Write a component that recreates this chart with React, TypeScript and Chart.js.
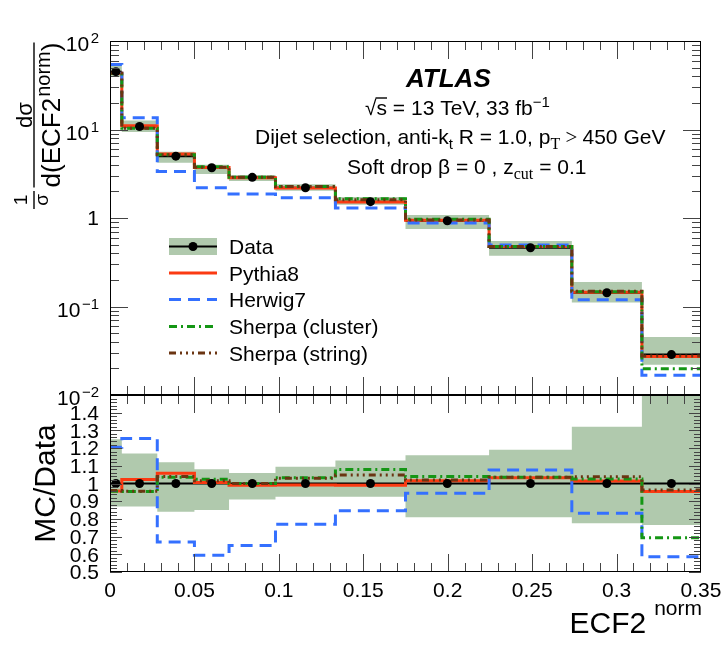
import React, { useEffect, useRef } from "react";
import { Chart, registerables } from "chart.js";

Chart.register(...registerables);

// ECF2^norm bin edges
const binEdges = [0, 0.007, 0.028, 0.05, 0.0705, 0.098, 0.1335, 0.175, 0.2245, 0.2735, 0.315, 0.35];

// Unfolded data, 1/σ dσ/d(ECF2^norm)
const dataValues = [45, 10.8, 5.0, 3.7, 2.88, 2.2, 1.53, 0.93, 0.461, 0.143, 0.0286];
// Total uncertainty band, as a fraction of the data value
const dataUncLow = [0.87, 0.87, 0.84, 0.85, 0.91, 0.925, 0.925, 0.81, 0.81, 0.775, 0.766];
const dataUncHigh = [1.25, 1.17, 1.12, 1.08, 1.06, 1.095, 1.13, 1.16, 1.19, 1.32, 1.58];

// Generator predictions
const pythia8 = [43.1, 11.04, 5.29, 3.72, 2.85, 2.18, 1.515, 0.945, 0.476, 0.145, 0.0273];
const herwig7 = [54.2, 13.55, 3.35, 2.2, 1.87, 1.694, 1.294, 0.879, 0.496, 0.119, 0.01676];
const sherpaCluster = [43.0, 10.31, 5.175, 3.79, 2.88, 2.27, 1.652, 0.967, 0.477, 0.1466, 0.01985];
const sherpaString = [43.2, 10.32, 5.2, 3.755, 2.88, 2.266, 1.603, 0.949, 0.477, 0.1484, 0.02754];

// Axis ticks
const xTicks = [0, 0.05, 0.1, 0.15, 0.2, 0.25, 0.3, 0.35];
const xTickLabels = ["0", "0.05", "0.1", "0.15", "0.2", "0.25", "0.3", "0.35"];
const logTicks = [0.01, 0.1, 1, 10, 100];
const logTickLabels: [string, string][] = [["10", "−2"], ["10", "−1"], ["1", ""], ["10", "1"], ["10", "2"]];
const ratioTicks = [0.5, 0.6, 0.7, 0.8, 0.9, 1, 1.1, 1.2, 1.3, 1.4];
const ratioTickLabels = ["0.5", "0.6", "0.7", "0.8", "0.9", "1", "1.1", "1.2", "1.3", "1.4"];

const seriesNames = ["Data", "Pythia8", "Herwig7", "Sherpa (cluster)", "Sherpa (string)"];

const SANS = '"Liberation Sans", Arial, Helvetica, sans-serif';
const SERIF = '"Liberation Serif", "DejaVu Serif", serif';
const sans = (px: number, style = "") => `${style} ${px}px ${SANS}`.trim();
const serif = (px: number) => `${px}px ${SERIF}`;

const BAND = "rgb(176,201,173)";
const RED = "#fb3a12";
const BLUE = "#3470ff";
const GREEN = "#149614";
const BROWN = "#6b3512";
const TICK = "#444";
const CLEAR = "rgba(0,0,0,0)";

const styles: Record<string, { color: string; dash: number[] }> = {
  Pythia8: { color: RED, dash: [] },
  Herwig7: { color: BLUE, dash: [12, 7] },
  "Sherpa (cluster)": { color: GREEN, dash: [8, 4, 2, 4] },
  "Sherpa (string)": { color: BROWN, dash: [7, 4, 2, 4, 2, 4, 2, 4] },
};

type Pt = { x: number; y: number | null };

// histogram outline: one point per left edge, plus the last right edge
const stepPoints = (vals: number[]): Pt[] => [
  ...vals.map((v, i) => ({ x: binEdges[i], y: v })),
  { x: binEdges[binEdges.length - 1], y: vals[vals.length - 1] },
];
// horizontal bin segments without vertical joins
const binSegments = (vals: number[]): Pt[] =>
  vals.flatMap((v, i) => [
    { x: binEdges[i], y: v },
    { x: binEdges[i + 1], y: v },
    { x: binEdges[i + 1], y: null },
  ]);
const binCenters = (vals: number[]): Pt[] =>
  vals.map((v, i) => ({ x: (binEdges[i] + binEdges[i + 1]) / 2, y: v }));
const overData = (vals: number[]) => vals.map((v, i) => v / dataValues[i]);

function seg(ctx: CanvasRenderingContext2D, x1: number, y1: number, x2: number, y2: number) {
  ctx.beginPath();
  ctx.moveTo(x1, y1);
  ctx.lineTo(x2, y2);
  ctx.stroke();
}

type Piece = { t: string; font: string; dy?: number; overline?: boolean };
function drawRich(ctx: CanvasRenderingContext2D, x: number, y: number, pieces: Piece[]) {
  let cx = x;
  ctx.textAlign = "left";
  ctx.textBaseline = "alphabetic";
  for (const p of pieces) {
    ctx.font = p.font;
    const w = ctx.measureText(p.t).width;
    ctx.fillText(p.t, cx, y + (p.dy ?? 0));
    if (p.overline) {
      ctx.lineWidth = 1.4;
      ctx.strokeStyle = "#000";
      seg(ctx, cx - 1, y - 17, cx + w, y - 17);
    }
    cx += w;
  }
  return cx;
}

// text running bottom-to-top, baseline at screen x = bx
function rotText(ctx: CanvasRenderingContext2D, bx: number, sy: number, text: string, font: string, align: CanvasTextAlign) {
  ctx.save();
  ctx.translate(bx, sy);
  ctx.rotate(-Math.PI / 2);
  ctx.font = font;
  ctx.textAlign = align;
  ctx.textBaseline = "alphabetic";
  ctx.fillText(text, 0, 0);
  ctx.restore();
}

function drawXTicks(ctx: CanvasRenderingContext2D, chart: any) {
  const { chartArea: a, scales } = chart;
  ctx.strokeStyle = TICK;
  ctx.lineWidth = 1;
  for (let k = 1; k < 35; k++) {
    const px = Math.round(scales.x.getPixelForValue(k / 100)) + 0.5;
    const len = k % 5 === 0 ? 18 : 9;
    seg(ctx, px, a.top, px, a.top + len);
    seg(ctx, px, a.bottom, px, a.bottom - len);
  }
}

function drawFrame(ctx: CanvasRenderingContext2D, a: any) {
  ctx.strokeStyle = "#000";
  ctx.lineWidth = 1;
  ctx.strokeRect(Math.round(a.left) + 0.5, Math.round(a.top) + 0.5, Math.round(a.width) - 1, Math.round(a.height) - 1);
}

const topDecor = {
  id: "topDecor",
  afterDraw(chart: any) {
    const { ctx, chartArea: a, scales } = chart;
    const ys = scales.y;
    ctx.save();
    drawXTicks(ctx, chart);
    // log y ticks, both sides
    ctx.strokeStyle = TICK;
    for (const d of logTicks) {
      const py = Math.round(ys.getPixelForValue(d)) + 0.5;
      seg(ctx, a.left, py, a.left + 18, py);
      seg(ctx, a.right, py, a.right - 18, py);
      if (d < 100) {
        for (let m = 2; m <= 9; m++) {
          const pm = Math.round(ys.getPixelForValue(d * m)) + 0.5;
          seg(ctx, a.left, pm, a.left + 9, pm);
          seg(ctx, a.right, pm, a.right - 9, pm);
        }
      }
    }
    drawFrame(ctx, a);

    // y tick labels
    ctx.fillStyle = "#000";
    ctx.textAlign = "right";
    ctx.textBaseline = "alphabetic";
    logTicks.forEach((d, i) => {
      const py = ys.getPixelForValue(d);
      const [base, sup] = logTickLabels[i];
      const right = 99;
      if (!sup) {
        ctx.font = sans(21);
        ctx.fillText(base, right, py + 7);
        return;
      }
      ctx.font = sans(15);
      const sw = ctx.measureText(sup).width;
      ctx.fillText(sup, right, py + 2);
      ctx.font = sans(21);
      ctx.fillText(base, right - sw - 1.5, py + 10);
    });

    // y-axis title: 1/σ dσ/d(ECF2^norm)
    const fr = 34;
    rotText(ctx, 27, 200, "1", sans(19), "center");
    rotText(ctx, 48, 200, "σ", sans(19), "center");
    ctx.strokeStyle = "#000";
    ctx.lineWidth = 1.4;
    seg(ctx, fr, 191, fr, 209);
    ctx.font = sans(26);
    const w1 = ctx.measureText("d(ECF2").width;
    const w3 = ctx.measureText(")").width;
    ctx.font = sans(20);
    const w2 = ctx.measureText("norm").width;
    const W = w1 + w2 + w3 + 1;
    const cy = 115;
    const start = cy + W / 2;
    seg(ctx, fr, start, fr, start - W);
    rotText(ctx, 32, cy, "dσ", sans(22), "center");
    rotText(ctx, 60, start, "d(ECF2", sans(26), "left");
    rotText(ctx, 50, start - w1 - 1, "norm", sans(20), "left");
    rotText(ctx, 60, start - w1 - 1 - w2, ")", sans(26), "left");

    // experiment label block
    ctx.fillStyle = "#000";
    ctx.textAlign = "left";
    ctx.font = sans(26, "italic bold");
    ctx.fillText("ATLAS", 406, 87);
    drawRich(ctx, 365, 115, [
      { t: "√", font: sans(21) },
      { t: "s", font: sans(21), overline: true },
      { t: " = 13 TeV, 33 fb", font: sans(21) },
      { t: "−1", font: sans(15), dy: -8 },
    ]);
    drawRich(ctx, 255, 144, [
      { t: "Dijet selection, anti-k", font: sans(21) },
      { t: "t", font: sans(15), dy: 5 },
      { t: " R = 1.0, p", font: sans(21) },
      { t: "T", font: serif(16), dy: 5 },
      { t: " > ", font: serif(21) },
      { t: "450 GeV", font: sans(21) },
    ]);
    drawRich(ctx, 347, 174, [
      { t: "Soft drop β = 0 , z", font: sans(21) },
      { t: "cut", font: serif(16), dy: 5 },
      { t: " = 0.1", font: sans(21) },
    ]);

    // legend
    const lx0 = 169;
    const lx1 = 217;
    const rows = [246.5, 273, 299.5, 326.5, 353];
    seriesNames.forEach((name, i) => {
      const y = rows[i];
      if (name === "Data") {
        ctx.fillStyle = BAND;
        ctx.fillRect(lx0, y - 8.5, lx1 - lx0, 17);
        ctx.strokeStyle = "#000";
        ctx.lineWidth = 2;
        ctx.setLineDash([]);
        seg(ctx, lx0, y, lx1, y);
        ctx.fillStyle = "#000";
        ctx.beginPath();
        ctx.arc((lx0 + lx1) / 2, y, 4.5, 0, Math.PI * 2);
        ctx.fill();
      } else {
        const st = styles[name];
        ctx.strokeStyle = st.color;
        ctx.lineWidth = 3;
        ctx.setLineDash(st.dash);
        seg(ctx, lx0, y, lx1, y);
        ctx.setLineDash([]);
      }
      ctx.fillStyle = "#000";
      ctx.font = sans(21);
      ctx.textAlign = "left";
      ctx.fillText(name, 229, y + 7.5);
    });
    ctx.restore();
  },
};

const ratioDecor = {
  id: "ratioDecor",
  afterDraw(chart: any) {
    const { ctx, chartArea: a, scales } = chart;
    const xs = scales.x;
    const ys = scales.y;
    ctx.save();
    drawXTicks(ctx, chart);
    ctx.strokeStyle = TICK;
    for (let k = 25; k < 75; k++) {
      const v = k / 50;
      const py = Math.round(ys.getPixelForValue(v)) + 0.5;
      const len = k % 5 === 0 ? 12 : 7;
      seg(ctx, a.left, py, a.left + len, py);
      seg(ctx, a.right, py, a.right - len, py);
    }
    drawFrame(ctx, a);

    ctx.fillStyle = "#000";
    ctx.font = sans(21);
    ctx.textAlign = "right";
    ctx.textBaseline = "middle";
    ratioTicks.forEach((v, i) => {
      ctx.fillText(ratioTickLabels[i], 99, ys.getPixelForValue(v) + 1.5);
    });
    ctx.textAlign = "center";
    ctx.textBaseline = "alphabetic";
    xTicks.forEach((v, i) => {
      ctx.fillText(xTickLabels[i], xs.getPixelForValue(v), a.bottom + 25);
    });

    // axis titles
    rotText(ctx, 55, (a.top + a.bottom) / 2, "MC/Data", sans(30), "center");
    ctx.textAlign = "left";
    ctx.font = sans(21);
    const wn = ctx.measureText("norm").width;
    ctx.font = sans(30);
    const we = ctx.measureText("ECF2").width;
    const xr = 702;
    ctx.font = sans(21);
    ctx.fillText("norm", xr - wn, a.bottom + 43);
    ctx.font = sans(30);
    ctx.fillText("ECF2", xr - wn - 8 - we, a.bottom + 61);
    ctx.restore();
  },
};

function mcDataset(name: string, values: number[], order: number) {
  const st = styles[name];
  return {
    label: name,
    data: stepPoints(values),
    stepped: "before",
    borderColor: st.color,
    borderWidth: 3,
    borderDash: st.dash,
    borderCapStyle: "butt",
    borderJoinStyle: "miter",
    pointRadius: 0,
    fill: false,
    order,
  };
}

function bandDatasets(hi: number[], lo: number[]) {
  return [
    {
      label: "band-hi",
      data: stepPoints(hi),
      stepped: "before",
      fill: "+1",
      backgroundColor: BAND,
      borderColor: CLEAR,
      borderWidth: 0,
      pointRadius: 0,
      order: 10,
    },
    {
      label: "band-lo",
      data: stepPoints(lo),
      stepped: "before",
      fill: false,
      borderColor: CLEAR,
      borderWidth: 0,
      pointRadius: 0,
      order: 9,
    },
  ];
}

function dataDatasets(vals: number[]) {
  return [
    {
      label: "Data-line",
      data: binSegments(vals),
      borderColor: "#000",
      borderWidth: 2,
      pointRadius: 0,
      spanGaps: false,
      fill: false,
      order: 8,
    },
    {
      label: "Data",
      data: binCenters(vals),
      showLine: false,
      pointRadius: 4.5,
      pointBackgroundColor: "#000",
      pointBorderWidth: 0,
      fill: false,
      order: 0,
    },
  ];
}

const common = {
  responsive: false,
  animation: false,
  events: [],
  plugins: { legend: { display: false }, tooltip: { enabled: false } },
};

function topConfig(): any {
  return {
    type: "line",
    data: {
      datasets: [
        ...bandDatasets(
          dataValues.map((v, i) => v * dataUncHigh[i]),
          dataValues.map((v, i) => v * dataUncLow[i])
        ),
        ...dataDatasets(dataValues),
        mcDataset("Pythia8", pythia8, 7),
        mcDataset("Herwig7", herwig7, 6),
        mcDataset("Sherpa (cluster)", sherpaCluster, 5),
        mcDataset("Sherpa (string)", sherpaString, 4),
      ],
    },
    options: {
      ...common,
      layout: { padding: { left: 110, right: 23, top: 41, bottom: 25 } },
      scales: {
        x: { type: "linear", min: 0, max: 0.35, display: false },
        y: { type: "logarithmic", min: 0.01, max: 100, display: false },
      },
    },
    plugins: [topDecor],
  };
}

function ratioConfig(): any {
  return {
    type: "line",
    data: {
      datasets: [
        ...bandDatasets(dataUncHigh, dataUncLow),
        ...dataDatasets(overData(dataValues)),
        mcDataset("Pythia8", overData(pythia8), 7),
        mcDataset("Herwig7", overData(herwig7), 6),
        mcDataset("Sherpa (cluster)", overData(sherpaCluster), 5),
        mcDataset("Sherpa (string)", overData(sherpaString), 4),
      ],
    },
    options: {
      ...common,
      layout: { padding: { left: 110, right: 23, top: 15, bottom: 75 } },
      scales: {
        x: { type: "linear", min: 0, max: 0.35, display: false },
        y: { type: "linear", min: 0.5, max: 1.5, display: false },
      },
    },
    plugins: [ratioDecor],
  };
}

export default function App() {
  const topRef = useRef<HTMLCanvasElement>(null);
  const ratioRef = useRef<HTMLCanvasElement>(null);

  useEffect(() => {
    const top = new Chart(topRef.current as HTMLCanvasElement, topConfig());
    const ratio = new Chart(ratioRef.current as HTMLCanvasElement, ratioConfig());
    return () => {
      top.destroy();
      ratio.destroy();
    };
  }, []);

  return (
    <div style={{ position: "absolute", left: 0, top: 0, width: 724, height: 647, background: "#fff", overflow: "hidden" }}>
      <canvas ref={topRef} width={724} height={420} style={{ position: "absolute", left: 0, top: 0 }} />
      <canvas ref={ratioRef} width={724} height={267} style={{ position: "absolute", left: 0, top: 380 }} />
    </div>
  );
}
